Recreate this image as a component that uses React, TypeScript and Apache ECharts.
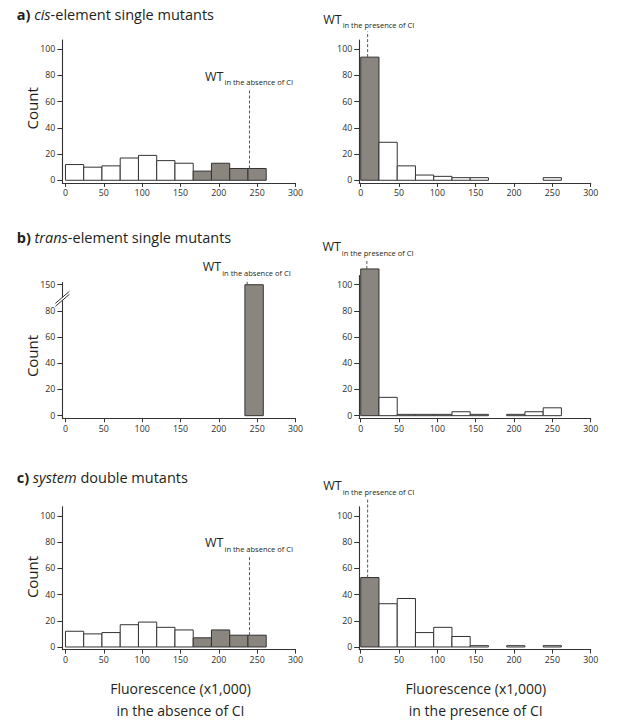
import React, { useEffect, useRef } from "react";
import * as echarts from "echarts";

// ---------- data ----------
const binStarts = [0, 23.8, 47.6, 71.4, 95.2, 119, 142.8, 166.6, 190.4, 214.2, 238];
const binWidth = 23.8;

const aLeftCounts = [12, 10, 11, 17, 19, 15, 13, 7, 13, 9, 9];
const aRightCounts = [94, 29, 11, 4, 3, 2, 2, 0, 0, 0, 2];
const bLeftBins = [[234, 258]];
const bLeftCounts = [150];
const bRightCounts = [112, 14, 1, 1, 1, 3, 1, 0, 1, 3, 6];
const cLeftCounts = [12, 10, 11, 17, 19, 15, 13, 7, 13, 9, 9];
const cRightCounts = [53, 33, 37, 11, 15, 8, 1, 0, 1, 0, 1];

const greyBinsLeft = [7, 8, 9, 10];
const greyBinsRight = [0];

const xTicks = [0, 50, 100, 150, 200, 250, 300];
const yTicks = [0, 20, 40, 60, 80, 100];
const yTicksBreak = [0, 20, 40, 60, 80, 150];
const yBreak = { start: 90, end: 140 };

// WT reference lines: x position and top of dashed line
const wtX = [240, 9, 237, 8, 240, 9];
const wtTop = [70, 113.5, 154, 119.5, 70, 113.5];
const wtSubs = [
  "in the absence of CI",
  "in the presence of CI",
  "in the absence of CI",
  "in the presence of CI",
  "in the absence of CI",
  "in the presence of CI",
];

const titles = [
  ["a)", "cis", "-element single mutants"],
  ["b)", "trans", "-element single mutants"],
  ["c)", "system", " double mutants"],
];
const xTitleLines = [
  ["Fluorescence (x1,000)", "in the absence of CI"],
  ["Fluorescence (x1,000)", "in the presence of CI"],
];

// ---------- style / layout ----------
const FONT = "'Open Sans', 'Noto Sans', sans-serif";
const GREY = "#8b857f";
const STROKE = "#333333";
const TEXT = "#231f20";

const grids = [
  { left: 62.4, top: 40.1, width: 233.1, height: 142.8, xMin: -4 },
  { left: 359.2, top: 40.1, width: 231.5, height: 142.8, xMin: -2 },
  { left: 62.4, top: 282.1, width: 233.1, height: 136.2, xMin: -4 },
  { left: 359.2, top: 275.5, width: 231.5, height: 142.8, xMin: -2 },
  { left: 62.4, top: 506.8, width: 233.1, height: 142.8, xMin: -4 },
  { left: 359.2, top: 506.8, width: 231.5, height: 142.8, xMin: -2 },
];
const titlePos = [14.2, 237.8, 477.5];
const countPos = [108.3, 356, 577];

function binsFrom(counts: number[], grey: number[]) {
  return counts.map((c, i) => [binStarts[i], binStarts[i] + binWidth, c, grey.includes(i) ? 1 : 0]);
}

const histData = [
  binsFrom(aLeftCounts, greyBinsLeft),
  binsFrom(aRightCounts, greyBinsRight),
  bLeftBins.map((b, i) => [b[0], b[1], bLeftCounts[i], 1]),
  binsFrom(bRightCounts, greyBinsRight),
  binsFrom(cLeftCounts, greyBinsLeft),
  binsFrom(cRightCounts, greyBinsRight),
];

function countAt(panel: number, x: number) {
  const d = histData[panel];
  for (const r of d) if (x >= r[0] && x <= r[1]) return r[2];
  return 0;
}

function buildOption() {
  const axisLine = { show: true, onZero: false, lineStyle: { color: STROKE, width: 1.1 } };
  const labelStyle = { color: "#2e2e2e", fontSize: 8.8, fontFamily: FONT };
  return {
    animation: false,
    backgroundColor: "#fff",
    grid: grids.map((g) => ({ left: g.left, top: g.top, width: g.width, height: g.height })),
    xAxis: grids.map((g, i) => ({
      type: "value",
      gridIndex: i,
      min: g.xMin,
      max: 300,
      axisLine,
      axisTick: { show: true, customValues: xTicks, length: 4, lineStyle: { color: STROKE } },
      axisLabel: { show: true, customValues: xTicks, margin: 6, ...labelStyle },
      splitLine: { show: false },
    })),
    yAxis: grids.map((g, i) => {
      const isBreak = i === 2;
      const base: any = {
        type: "value",
        gridIndex: i,
        min: -2,
        max: isBreak ? 152 : 107,
        axisLine,
        axisTick: {
          show: true,
          customValues: isBreak ? yTicksBreak : yTicks,
          length: 5,
          lineStyle: { color: STROKE },
        },
        axisLabel: { show: true, customValues: isBreak ? yTicksBreak : yTicks, margin: 7, ...labelStyle },
        splitLine: { show: false },
      };
      if (isBreak) {
        base.breaks = [{ start: yBreak.start, end: yBreak.end, gap: 0 }];
        base.breakArea = { show: false, expandOnClick: false };
      }
      return base;
    }),
    series: [
      ...histData.map((d, i) => ({
        type: "custom",
        xAxisIndex: i,
        yAxisIndex: i,
        data: d,
        encode: { x: [0, 1], y: 2 },
        clip: false,
        renderItem: (params: any, api: any) => {
          const x0 = api.value(0);
          const x1 = api.value(1);
          const c = api.value(2);
          const g = api.value(3);
          if (!c) return null;
          const p0 = api.coord([x0, 0]);
          const p1 = api.coord([x1, c]);
          return {
            type: "rect",
            shape: { x: p0[0], y: p1[1], width: p1[0] - p0[0], height: p0[1] - p1[1] },
            style: { fill: g ? GREY : "#ffffff", stroke: STROKE, lineWidth: 1 },
          };
        },
      })),
      ...wtX.map((x, i) => ({
        type: "line",
        xAxisIndex: i,
        yAxisIndex: i,
        data: [
          [x, countAt(i, x)],
          [x, wtTop[i]],
        ],
        symbol: "none",
        clip: false,
        silent: true,
        lineStyle: { color: "#555", width: 1, type: [3, 2] },
        z: 5,
      })),
    ],
  };
}

function buildGraphics(chart: any) {
  const els: any[] = [];
  // panel titles and y-axis names
  titles.forEach((t, r) => {
    els.push({
      type: "text",
      x: 16.7,
      y: titlePos[r],
      z: 100,
      style: {
        text: `{b|${t[0]}} {i|${t[1]}}{n|${t[2]}}`,
        rich: {
          b: { fontWeight: "bold", fontSize: 14.5, fontFamily: FONT, fill: TEXT },
          i: { fontStyle: "italic", fontSize: 14.5, fontFamily: FONT, fill: TEXT },
          n: { fontSize: 14.5, fontFamily: FONT, fill: TEXT },
        },
        fontSize: 14.5,
        fontFamily: FONT,
        fill: TEXT,
        textAlign: "left",
        textVerticalAlign: "middle",
      },
    });
    els.push({
      type: "text",
      x: 32,
      y: countPos[r],
      rotation: Math.PI / 2,
      z: 100,
      style: {
        text: "Count",
        fontSize: 15,
        fontFamily: FONT,
        fill: TEXT,
        textAlign: "center",
        textVerticalAlign: "middle",
      },
    });
  });
  // WT labels
  wtX.forEach((x, i) => {
    const p = chart.convertToPixel({ gridIndex: i }, [x, wtTop[i]]);
    els.push({
      type: "text",
      x: p[0] - 26,
      y: p[1] - 12.5,
      z: 100,
      style: { text: "WT", fontSize: 12.5, fontFamily: FONT, fill: TEXT, textAlign: "right", textVerticalAlign: "middle" },
    });
    els.push({
      type: "text",
      x: p[0] - 25,
      y: p[1] - 6.5,
      z: 100,
      style: { text: wtSubs[i], fontSize: 7.5, fontFamily: FONT, fill: TEXT, textAlign: "left", textVerticalAlign: "middle" },
    });
  });
  // x titles (bottom row)
  [4, 5].forEach((gi, k) => {
    const p = chart.convertToPixel({ gridIndex: gi }, [150, 0]);
    xTitleLines[k].forEach((line, j) => {
      els.push({
        type: "text",
        x: p[0],
        y: 688.7 + j * 21.4,
        z: 100,
        style: { text: line, fontSize: 14, fontFamily: FONT, fill: TEXT, textAlign: "center", textVerticalAlign: "middle" },
      });
    });
  });
  // axis break mark
  const bp = chart.convertToPixel({ gridIndex: 2 }, [grids[2].xMin, yBreak.start]);
  const ax = bp[0];
  const cy = bp[1] + 1;
  els.push({
    type: "polygon",
    z: 100,
    shape: { points: [[ax - 7, cy + 4.5], [ax + 7, cy - 7.5], [ax + 7, cy - 4.5], [ax - 7, cy + 7.5]] },
    style: { fill: "#fff", stroke: null },
  });
  els.push({
    type: "line",
    z: 101,
    shape: { x1: ax - 7, y1: cy + 4.5, x2: ax + 7, y2: cy - 7.5 },
    style: { stroke: STROKE, lineWidth: 1 },
  });
  els.push({
    type: "line",
    z: 101,
    shape: { x1: ax - 7, y1: cy + 7.5, x2: ax + 7, y2: cy - 4.5 },
    style: { stroke: STROKE, lineWidth: 1 },
  });
  return els;
}

export default function App() {
  const ref = useRef<HTMLDivElement>(null);
  useEffect(() => {
    if (!ref.current) return;
    const chart = echarts.init(ref.current, null, { renderer: "svg" });
    chart.setOption(buildOption() as any);
    chart.setOption({ graphic: buildGraphics(chart) } as any);
    return () => chart.dispose();
  }, []);
  return (
    <div
      ref={ref}
      style={{ position: "absolute", left: 0, top: 0, width: 617, height: 720, background: "#fff" }}
    />
  );
}
